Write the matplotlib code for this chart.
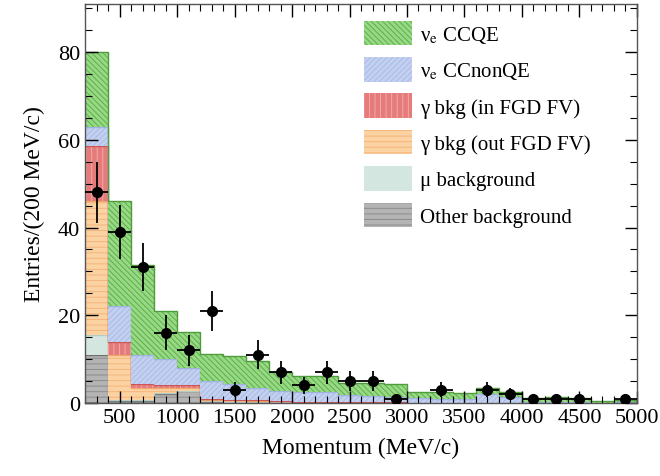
import numpy as np
import matplotlib.pyplot as plt
from matplotlib.ticker import MultipleLocator
from matplotlib.patches import Patch

plt.rcParams['font.family'] = ['Liberation Serif', 'DejaVu Serif']
plt.rcParams['mathtext.fontset'] = 'stix'
plt.rcParams['hatch.linewidth'] = 0.7

# bin edges (MeV/c), 200 MeV/c wide
edges = np.arange(200, 5001, 200)

# MC components per bin (stacked bottom -> top)
other_bkg = [11.0, 0.5, 0.5, 2.0, 2.7, 0.3, 0.2, 0.2, 0.1, 0.1, 0.1, 0.1, 0.1, 0.1,
             0.1, 0.1, 0.1, 0.1, 0.1, 0.0, 0.0, 0.0, 0.0, 0.0]
mu_bkg = [4.5, 0.3, 0.2, 0.2, 0.1, 0.1, 0.1, 0.1, 0.1, 0.0, 0.0, 0.0, 0.0, 0.0,
          0.0, 0.0, 0.0, 0.0, 0.0, 0.0, 0.0, 0.0, 0.0, 0.0]
gamma_out = [30.5, 10.2, 2.8, 1.3, 0.7, 0.3, 0.3, 0.2, 0.2, 0.1, 0.1, 0.1, 0.1, 0.1,
             0.0, 0.0, 0.0, 0.0, 0.0, 0.0, 0.0, 0.0, 0.0, 0.0]
gamma_in = [12.5, 3.0, 0.8, 0.6, 0.6, 0.2, 0.2, 0.2, 0.1, 0.1, 0.1, 0.1, 0.1, 0.1,
            0.0, 0.0, 0.0, 0.0, 0.0, 0.0, 0.0, 0.0, 0.0, 0.0]
ccnonqe = [4.5, 8.0, 6.7, 5.9, 3.9, 4.1, 3.5, 2.8, 2.3, 2.2, 2.2, 1.5, 1.2, 1.0,
           1.1, 0.9, 0.9, 1.9, 1.2, 0.3, 0.3, 0.3, 0.1, 0.2]
ccqe = [17.0, 24.0, 20.5, 11.0, 8.2, 6.2, 6.5, 6.0, 4.2, 3.7, 3.7, 2.7, 3.0, 3.0,
        1.3, 1.5, 1.3, 1.5, 1.2, 0.9, 1.0, 0.9, 0.3, 0.6]

# data
data_counts = [48, 39, 31, 16, 12, 21, 3, 11, 7, 4, 7, 5, 5, 1, 0, 3, 0, 3, 2, 1, 1, 1, 0, 1]

components = [
    (other_bkg, '#b4b4b4', '#8c8c8c', '---', '#6e6e6e', 'Other background'),
    (mu_bkg, '#d3e6df', '#c2d8d0', '', '#b5ccc4', 'μ background'),
    (gamma_out, '#fbd3a3', '#f4b47a', '---', '#f0a868', 'γ bkg (out FGD FV)'),
    (gamma_in, '#e57b7b', '#f2a9a9', '|||', '#cc5656', 'γ bkg (in FGD FV)'),
    (ccnonqe, '#c3d0ef', '#a9bbe6', '//////', '#9fb2e0', r'ν$_\mathrm{e}$ CCnonQE'),
    (ccqe, '#97d985', '#5fae4a', '\\\\\\\\\\\\', '#4f9c3c', r'ν$_\mathrm{e}$ CCQE'),
]

fig = plt.figure(figsize=(6.6, 4.77), dpi=100)
ax = fig.add_axes([0.129, 0.153, 0.836, 0.837])

bottom = np.zeros(len(edges) - 1)
handles = []
for vals, face, hcol, hatch, line, label in components:
    vals = np.array(vals)
    top = bottom + vals
    ax.stairs(top, edges, baseline=bottom, fill=True, facecolor=face,
              edgecolor=hcol, hatch=hatch, linewidth=0)
    ax.stairs(top, edges, baseline=None, color=line, linewidth=1.0)
    handles.append(Patch(facecolor=face, edgecolor=hcol, hatch=hatch, linewidth=0, label=label))
    bottom = top

# data points
centers = (edges[:-1] + edges[1:]) / 2
counts = np.array(data_counts, dtype=float)
mask = counts > 0
ax.errorbar(centers[mask], counts[mask], xerr=100, yerr=np.sqrt(counts[mask]),
            fmt='o', color='black', markersize=7, elinewidth=1.3, capsize=0, zorder=5)

ax.set_xlim(200, 5000)
ax.set_ylim(0, 91)
ax.xaxis.set_major_locator(MultipleLocator(500))
ax.xaxis.set_minor_locator(MultipleLocator(100))
ax.yaxis.set_major_locator(MultipleLocator(20))
ax.yaxis.set_minor_locator(MultipleLocator(5))
ax.tick_params(which='both', direction='in', top=True, right=True, labelsize=16)
ax.tick_params(which='major', length=9, width=1.0)
ax.tick_params(which='minor', length=5, width=0.8)
for s in ax.spines.values():
    s.set_linewidth(1.0)
    s.set_color('#555555')

ax.set_xlabel('Momentum (MeV/c)', fontsize=17, labelpad=7)
ax.set_ylabel('Entries/(200 MeV/c)', fontsize=17, labelpad=9)

leg = ax.legend(handles=handles[::-1], loc='upper right', bbox_to_anchor=(0.95, 1.005),
                frameon=False, fontsize=15, handlelength=2.3, handleheight=1.45,
                labelspacing=0.56, handletextpad=0.4)

fig.savefig('out.png', dpi=100)
